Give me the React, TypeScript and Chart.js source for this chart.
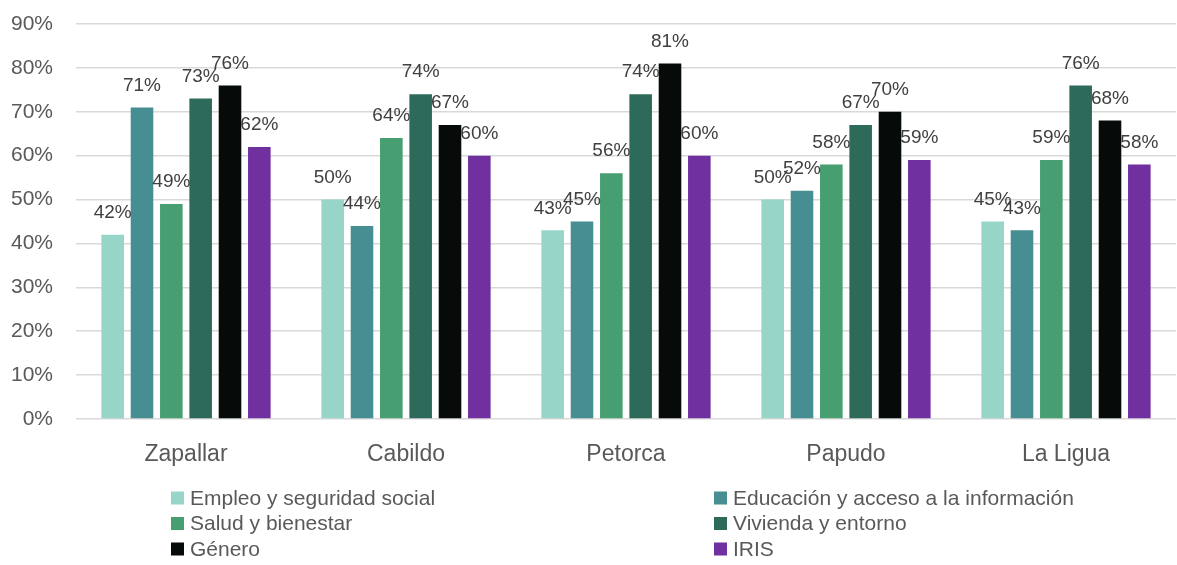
import React, { useEffect, useRef } from "react";
import { Chart, registerables } from "chart.js";

Chart.register(...registerables);

const categories = ["Zapallar", "Cabildo", "Petorca", "Papudo", "La Ligua"];

const seriesNames = [
  "Empleo y seguridad social",
  "Educación y acceso a la información",
  "Salud y bienestar",
  "Vivienda y entorno",
  "Género",
  "IRIS",
];

const empleo = [42, 50, 43, 50, 45];
const educacion = [71, 44, 45, 52, 43];
const salud = [49, 64, 56, 58, 59];
const vivienda = [73, 74, 74, 67, 76];
const genero = [76, 67, 81, 70, 68];
const iris = [62, 60, 60, 59, 58];

const seriesValues = [empleo, educacion, salud, vivienda, genero, iris];

const seriesColors = ["#97D5C9", "#468E91", "#479E70", "#2E6A5A", "#060A09", "#7030A0"];

const yTicks = [0, 10, 20, 30, 40, 50, 60, 70, 80, 90];

const FONT = '"Liberation Sans", Arial, sans-serif';

// Percentage labels above each bar
const valueLabels = {
  id: "valueLabels",
  afterDatasetsDraw(chart: any) {
    const { ctx } = chart;
    ctx.save();
    ctx.font = `19px ${FONT}`;
    ctx.fillStyle = "#404040";
    ctx.textAlign = "center";
    ctx.textBaseline = "middle";
    chart.data.datasets.forEach((ds: any, di: number) => {
      const meta = chart.getDatasetMeta(di);
      meta.data.forEach((bar: any, i: number) => {
        ctx.fillText(`${ds.data[i]}%`, bar.x, bar.y - 22);
      });
    });
    ctx.restore();
  },
};

// Two-column legend under the axis
const columnLegend = {
  id: "columnLegend",
  afterDraw(chart: any) {
    const { ctx } = chart;
    const colX = [171, 714];
    const rowY = [498, 523.5, 549];
    const box = 13;
    ctx.save();
    ctx.font = `21px ${FONT}`;
    ctx.textAlign = "left";
    ctx.textBaseline = "middle";
    chart.data.datasets.forEach((ds: any, i: number) => {
      const x = colX[i % 2];
      const y = rowY[Math.floor(i / 2)];
      ctx.fillStyle = ds.backgroundColor;
      ctx.fillRect(x, y - box / 2, box, box);
      ctx.fillStyle = "#595959";
      ctx.fillText(ds.label, x + 19, y + 1);
    });
    ctx.restore();
  },
};

export default function App() {
  const canvasRef = useRef<HTMLCanvasElement>(null);

  useEffect(() => {
    document.body.style.margin = "0";
    const canvas = canvasRef.current;
    if (!canvas) return;

    const chart = new Chart(canvas, {
      type: "bar",
      data: {
        labels: categories,
        datasets: seriesNames.map((name, i) => ({
          label: name,
          data: seriesValues[i],
          backgroundColor: seriesColors[i],
          borderWidth: 0,
          categoryPercentage: 0.8,
          barPercentage: 0.77,
        })),
      },
      options: {
        responsive: false,
        animation: false,
        maintainAspectRatio: false,
        layout: { padding: { top: 24, right: 1, left: 0, bottom: 0 } },
        plugins: {
          legend: { display: false },
          tooltip: { enabled: false },
        },
        scales: {
          x: {
            grid: { display: false, drawTicks: false },
            border: { display: false },
            ticks: {
              padding: 22,
              color: "#595959",
              font: { family: FONT, size: 23 },
            },
            afterFit(scale: any) {
              scale.height = 146;
            },
          },
          y: {
            min: 0,
            max: 90,
            afterBuildTicks(scale: any) {
              scale.ticks = yTicks.map((v) => ({ value: v }));
            },
            grid: {
              color: "#D9D9D9",
              lineWidth: 1.5,
              drawTicks: true,
              tickLength: 23,
              tickColor: "rgba(0,0,0,0)",
            },
            border: { display: false },
            ticks: {
              padding: 0,
              color: "#595959",
              font: { family: FONT, size: 21 },
              callback: (v: any) => `${v}%`,
            },
            afterFit(scale: any) {
              scale.width = 76;
            },
          },
        },
      },
      plugins: [valueLabels, columnLegend],
    });

    return () => chart.destroy();
  }, []);

  return (
    <div style={{ width: 1177, height: 565 }}>
      <canvas ref={canvasRef} width={1177} height={565} style={{ display: "block" }} />
    </div>
  );
}
